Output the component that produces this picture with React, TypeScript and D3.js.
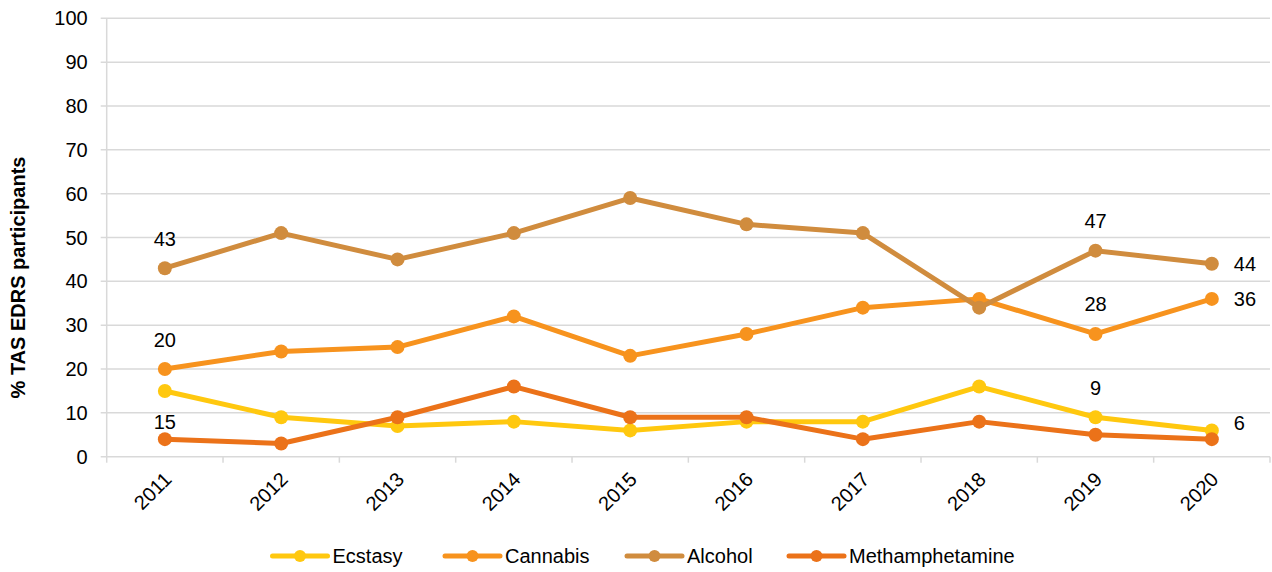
import React from "react";
import * as d3 from "d3";

const years = ["2011", "2012", "2013", "2014", "2015", "2016", "2017", "2018", "2019", "2020"];
const ecstasy = [15, 9, 7, 8, 6, 8, 8, 16, 9, 6];
const cannabis = [20, 24, 25, 32, 23, 28, 34, 36, 28, 36];
const alcohol = [43, 51, 45, 51, 59, 53, 51, 34, 47, 44];
const meth = [4, 3, 9, 16, 9, 9, 4, 8, 5, 4];
const yTicks = [0, 10, 20, 30, 40, 50, 60, 70, 80, 90, 100];

const seriesNames = ["Ecstasy", "Cannabis", "Alcohol", "Methamphetamine"];
const seriesColors = ["#FFC80F", "#F7931E", "#D08C3E", "#EB7219"];
const seriesValues = [ecstasy, cannabis, alcohol, meth];
const drawOrder = [0, 1, 2, 3];

// data labels: text, series used for anchoring, year index, placement
const labelTexts = ["43", "20", "15", "47", "28", "9", "44", "36", "6"];
const labelSeries = [2, 1, 3, 2, 1, 0, 2, 1, 0];
const labelYear = [0, 0, 0, 8, 8, 8, 9, 9, 9];
const labelPlace = ["above", "above", "aboveNear", "above", "above", "above", "right", "right", "rightUp"];

export default function App() {
  const W = 1272, H = 572;
  const left = 106.7, right = 1270, top = 18.3, bottom = 456.7;
  const x = d3.scaleBand<string>().domain(years).range([left, right]);
  const y = d3.scaleLinear().domain([0, 100]).range([bottom, top]);
  const cx = (i: number) => (x(years[i]) as number) + x.bandwidth() / 2;
  const line = d3.line<number>().x((_, i) => cx(i)).y((v) => y(v));
  const font = "'Liberation Sans', Arial, sans-serif";
  const fs = 20;

  const legendX = [272.5, 445, 627, 789];
  const legendY = 556;

  return (
    <svg width={W} height={H} style={{ display: "block", position: "absolute", left: 0, top: 0 }} fontFamily={font}>
      <rect width={W} height={H} fill="#fff" />
      {yTicks.map((t) => (
        <g key={t}>
          <line x1={left - 6} x2={right} y1={y(t)} y2={y(t)} stroke="#D9D9D9" strokeWidth={1.5} />
          <text x={left - 19} y={y(t)} dy="0.35em" textAnchor="end" fontSize={fs} fill="#000">{t}</text>
        </g>
      ))}
      <line x1={left} x2={left} y1={top} y2={bottom} stroke="#D9D9D9" strokeWidth={1.5} />
      {years.map((yr) => (
        <line key={"t" + yr} x1={(x(yr) as number)} x2={(x(yr) as number)} y1={bottom} y2={bottom + 6} stroke="#D9D9D9" strokeWidth={1.5} />
      ))}
      <line x1={right} x2={right} y1={bottom} y2={bottom + 6} stroke="#D9D9D9" strokeWidth={1.5} />
      {years.map((yr, i) => (
        <text key={"l" + yr} transform={`translate(${cx(i) - 2},${bottom + 14}) rotate(-45)`} textAnchor="end" dy="0.7em" fontSize={fs} fill="#000">{yr}</text>
      ))}
      <text transform={`translate(25,${(top + bottom) / 2 + 40}) rotate(-90)`} textAnchor="middle" fontSize={fs} fontWeight="bold" fill="#000">% TAS EDRS participants</text>

      {drawOrder.map((s) => (
        <g key={"s" + s}>
          <path d={line(seriesValues[s]) as string} fill="none" stroke={seriesColors[s]} strokeWidth={5} strokeLinejoin="round" />
          {seriesValues[s].map((v, i) => (
            <circle key={i} cx={cx(i)} cy={y(v)} r={7} fill={seriesColors[s]} />
          ))}
        </g>
      ))}

      {labelTexts.map((t, k) => {
        const px = cx(labelYear[k]);
        const py = y(seriesValues[labelSeries[k]][labelYear[k]]);
        const p = labelPlace[k];
        if (p === "right" || p === "rightUp") {
          return <text key={"d" + k} x={px + 22} y={py + (p === "rightUp" ? -7 : 0)} dy="0.35em" fontSize={fs} fill="#000">{t}</text>;
        }
        return <text key={"d" + k} x={px} y={py - (p === "aboveNear" ? 10 : 22.5)} textAnchor="middle" fontSize={fs} fill="#000">{t}</text>;
      })}

      {seriesNames.map((n, s) => (
        <g key={"lg" + s}>
          <line x1={legendX[s]} x2={legendX[s] + 55} y1={legendY} y2={legendY} stroke={seriesColors[s]} strokeWidth={5} strokeLinecap="round" />
          <circle cx={legendX[s] + 27.5} cy={legendY} r={6} fill={seriesColors[s]} />
          <text x={legendX[s] + 60} y={legendY} dy="0.35em" fontSize={fs} fill="#000">{n}</text>
        </g>
      ))}
    </svg>
  );
}
